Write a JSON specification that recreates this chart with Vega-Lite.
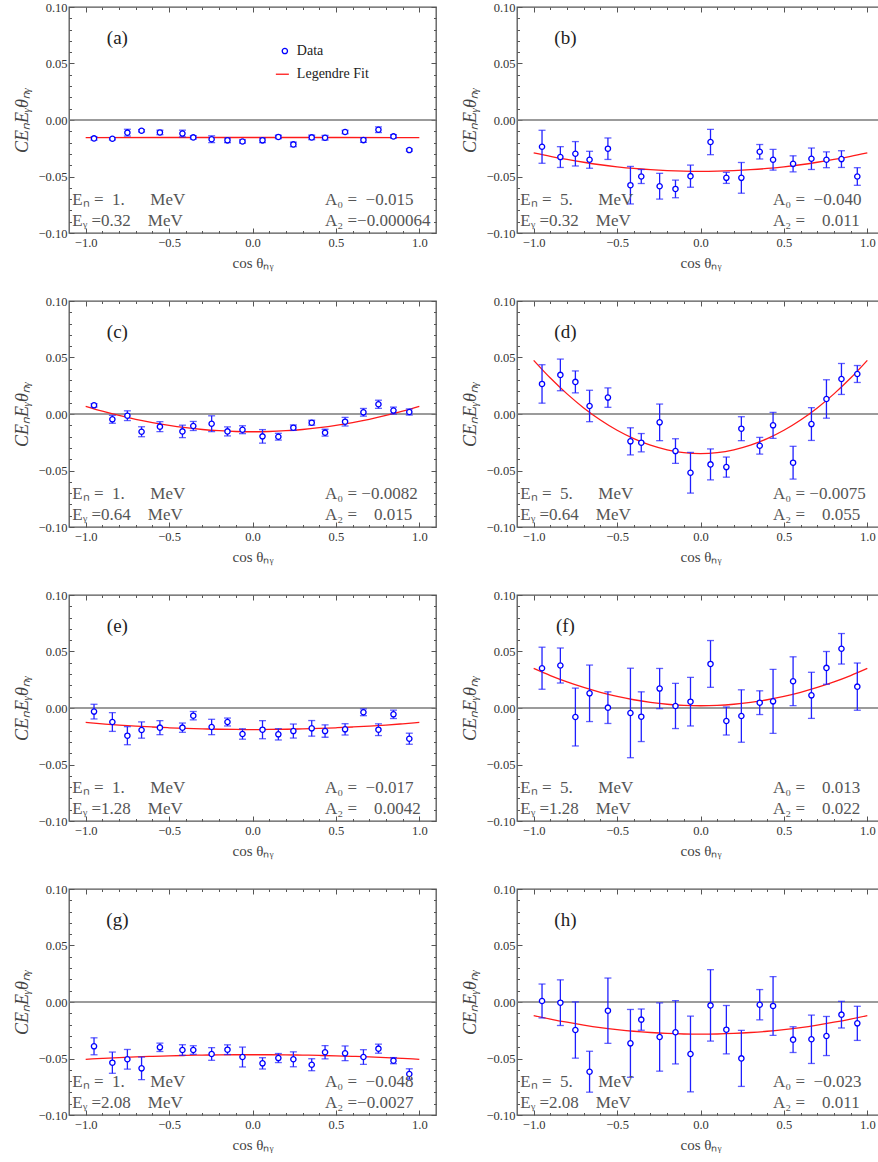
{
"$schema": "https://vega.github.io/schema/vega-lite/v6.json",
"padding": {"left": 12, "top": 0, "right": 0, "bottom": 0},
"background": "white",
"config": {
  "font": "Liberation Serif",
  "view": {"stroke": "#555555", "strokeWidth": 1.3},
  "axis": {"labelFont": "Liberation Serif", "labelFontSize": 12.5, "labelColor": "#333333", "titleFont": "Liberation Serif", "titleFontSize": 15, "titleFontWeight": "normal", "titleColor": "#444444", "tickColor": "#555555", "tickWidth": 1, "domain": false, "grid": false, "labelFlush": false, "labelOverlap": false, "labelBound": false},
  "axisLeft": {"titleFontSize": 18}
},
"datasets": {
"pts": [
{"p":"a","x":-0.95,"y":-0.0163,"e":0.0015},{"p":"a","x":-0.84,"y":-0.0166,"e":0.001},{"p":"a","x":-0.75,"y":-0.0112,"e":0.003},{"p":"a","x":-0.665,"y":-0.0095,"e":0.001},{"p":"a","x":-0.555,"y":-0.011,"e":0.002},{"p":"a","x":-0.42,"y":-0.012,"e":0.003},{"p":"a","x":-0.355,"y":-0.0154,"e":0.0015},{"p":"a","x":-0.245,"y":-0.017,"e":0.003},{"p":"a","x":-0.15,"y":-0.018,"e":0.002},{"p":"a","x":-0.06,"y":-0.019,"e":0.0015},{"p":"a","x":0.06,"y":-0.018,"e":0.002},{"p":"a","x":0.155,"y":-0.015,"e":0.0015},{"p":"a","x":0.245,"y":-0.0216,"e":0.002},{"p":"a","x":0.355,"y":-0.0154,"e":0.002},{"p":"a","x":0.435,"y":-0.0157,"e":0.002},{"p":"a","x":0.555,"y":-0.0106,"e":0.0015},{"p":"a","x":0.665,"y":-0.0178,"e":0.002},{"p":"a","x":0.755,"y":-0.0086,"e":0.0025},{"p":"a","x":0.845,"y":-0.0145,"e":0.0015},{"p":"a","x":0.94,"y":-0.0266,"e":0.001},
{"p":"b","x":-0.95,"y":-0.0237,"e":0.0146},{"p":"b","x":-0.84,"y":-0.0328,"e":0.0092},{"p":"b","x":-0.75,"y":-0.0299,"e":0.0108},{"p":"b","x":-0.665,"y":-0.0352,"e":0.0075},{"p":"b","x":-0.555,"y":-0.0254,"e":0.0095},{"p":"b","x":-0.42,"y":-0.0577,"e":0.0166},{"p":"b","x":-0.355,"y":-0.05,"e":0.0062},{"p":"b","x":-0.245,"y":-0.0586,"e":0.0114},{"p":"b","x":-0.15,"y":-0.061,"e":0.0078},{"p":"b","x":-0.06,"y":-0.0497,"e":0.0098},{"p":"b","x":0.06,"y":-0.0195,"e":0.0112},{"p":"b","x":0.155,"y":-0.0512,"e":0.0049},{"p":"b","x":0.245,"y":-0.0512,"e":0.0136},{"p":"b","x":0.355,"y":-0.0281,"e":0.0064},{"p":"b","x":0.435,"y":-0.0352,"e":0.0092},{"p":"b","x":0.555,"y":-0.0388,"e":0.0071},{"p":"b","x":0.665,"y":-0.0343,"e":0.0095},{"p":"b","x":0.755,"y":-0.0352,"e":0.007},{"p":"b","x":0.845,"y":-0.0346,"e":0.0074},{"p":"b","x":0.94,"y":-0.05,"e":0.0078},
{"p":"c","x":-0.95,"y":0.0077,"e":0.0015},{"p":"c","x":-0.84,"y":-0.0047,"e":0.0035},{"p":"c","x":-0.75,"y":-0.0015,"e":0.0043},{"p":"c","x":-0.665,"y":-0.0157,"e":0.0044},{"p":"c","x":-0.555,"y":-0.0112,"e":0.0044},{"p":"c","x":-0.42,"y":-0.0154,"e":0.0055},{"p":"c","x":-0.355,"y":-0.0106,"e":0.004},{"p":"c","x":-0.245,"y":-0.0086,"e":0.007},{"p":"c","x":-0.15,"y":-0.0154,"e":0.004},{"p":"c","x":-0.06,"y":-0.0139,"e":0.0035},{"p":"c","x":0.06,"y":-0.0198,"e":0.006},{"p":"c","x":0.155,"y":-0.0201,"e":0.003},{"p":"c","x":0.245,"y":-0.0121,"e":0.0024},{"p":"c","x":0.355,"y":-0.0077,"e":0.0022},{"p":"c","x":0.435,"y":-0.0165,"e":0.003},{"p":"c","x":0.555,"y":-0.0068,"e":0.0038},{"p":"c","x":0.665,"y":0.0015,"e":0.0034},{"p":"c","x":0.755,"y":0.0086,"e":0.0036},{"p":"c","x":0.845,"y":0.003,"e":0.0031},{"p":"c","x":0.94,"y":0.0018,"e":0.0027},
{"p":"d","x":-0.95,"y":0.0266,"e":0.017},{"p":"d","x":-0.84,"y":0.0346,"e":0.014},{"p":"d","x":-0.75,"y":0.0284,"e":0.0097},{"p":"d","x":-0.665,"y":0.0071,"e":0.0139},{"p":"d","x":-0.555,"y":0.0145,"e":0.0086},{"p":"d","x":-0.42,"y":-0.0242,"e":0.012},{"p":"d","x":-0.355,"y":-0.0254,"e":0.0081},{"p":"d","x":-0.245,"y":-0.0074,"e":0.0162},{"p":"d","x":-0.15,"y":-0.0328,"e":0.0109},{"p":"d","x":-0.06,"y":-0.052,"e":0.018},{"p":"d","x":0.06,"y":-0.0446,"e":0.0137},{"p":"d","x":0.155,"y":-0.047,"e":0.0089},{"p":"d","x":0.245,"y":-0.013,"e":0.0106},{"p":"d","x":0.355,"y":-0.0281,"e":0.0074},{"p":"d","x":0.435,"y":-0.01,"e":0.0115},{"p":"d","x":0.555,"y":-0.0431,"e":0.0145},{"p":"d","x":0.665,"y":-0.0089,"e":0.0145},{"p":"d","x":0.755,"y":0.0133,"e":0.017},{"p":"d","x":0.845,"y":0.031,"e":0.0137},{"p":"d","x":0.94,"y":0.0354,"e":0.0075},
{"p":"e","x":-0.95,"y":-0.0032,"e":0.0065},{"p":"e","x":-0.84,"y":-0.0124,"e":0.0083},{"p":"e","x":-0.75,"y":-0.0245,"e":0.008},{"p":"e","x":-0.665,"y":-0.0195,"e":0.0072},{"p":"e","x":-0.555,"y":-0.0174,"e":0.0062},{"p":"e","x":-0.42,"y":-0.0174,"e":0.0041},{"p":"e","x":-0.355,"y":-0.0068,"e":0.0037},{"p":"e","x":-0.245,"y":-0.0168,"e":0.0068},{"p":"e","x":-0.15,"y":-0.0124,"e":0.0035},{"p":"e","x":-0.06,"y":-0.023,"e":0.0046},{"p":"e","x":0.06,"y":-0.0192,"e":0.008},{"p":"e","x":0.155,"y":-0.0233,"e":0.005},{"p":"e","x":0.245,"y":-0.0204,"e":0.0062},{"p":"e","x":0.355,"y":-0.018,"e":0.0069},{"p":"e","x":0.435,"y":-0.0204,"e":0.0055},{"p":"e","x":0.555,"y":-0.0189,"e":0.005},{"p":"e","x":0.665,"y":-0.0038,"e":0.003},{"p":"e","x":0.755,"y":-0.0192,"e":0.0052},{"p":"e","x":0.845,"y":-0.0056,"e":0.0037},{"p":"e","x":0.94,"y":-0.0272,"e":0.0049},
{"p":"f","x":-0.95,"y":0.0352,"e":0.0186},{"p":"f","x":-0.84,"y":0.0376,"e":0.0155},{"p":"f","x":-0.75,"y":-0.008,"e":0.0256},{"p":"f","x":-0.665,"y":0.013,"e":0.025},{"p":"f","x":-0.555,"y":0.0003,"e":0.014},{"p":"f","x":-0.42,"y":-0.0044,"e":0.0396},{"p":"f","x":-0.355,"y":-0.0077,"e":0.022},{"p":"f","x":-0.245,"y":0.0172,"e":0.0178},{"p":"f","x":-0.15,"y":0.0018,"e":0.02},{"p":"f","x":-0.06,"y":0.0056,"e":0.0215},{"p":"f","x":0.06,"y":0.039,"e":0.0207},{"p":"f","x":0.155,"y":-0.0115,"e":0.0124},{"p":"f","x":0.245,"y":-0.0071,"e":0.0232},{"p":"f","x":0.355,"y":0.0047,"e":0.0105},{"p":"f","x":0.435,"y":0.0059,"e":0.0283},{"p":"f","x":0.555,"y":0.0237,"e":0.0216},{"p":"f","x":0.665,"y":0.0112,"e":0.0204},{"p":"f","x":0.755,"y":0.0355,"e":0.0145},{"p":"f","x":0.845,"y":0.0524,"e":0.0135},{"p":"f","x":0.94,"y":0.0189,"e":0.0209},
{"p":"g","x":-0.95,"y":-0.0392,"e":0.0075},{"p":"g","x":-0.84,"y":-0.0537,"e":0.0094},{"p":"g","x":-0.75,"y":-0.0507,"e":0.0087},{"p":"g","x":-0.665,"y":-0.0587,"e":0.01},{"p":"g","x":-0.555,"y":-0.0401,"e":0.0037},{"p":"g","x":-0.42,"y":-0.0425,"e":0.0047},{"p":"g","x":-0.355,"y":-0.0425,"e":0.0038},{"p":"g","x":-0.245,"y":-0.046,"e":0.0056},{"p":"g","x":-0.15,"y":-0.0422,"e":0.0043},{"p":"g","x":-0.06,"y":-0.0487,"e":0.0088},{"p":"g","x":0.06,"y":-0.0543,"e":0.005},{"p":"g","x":0.155,"y":-0.0496,"e":0.004},{"p":"g","x":0.245,"y":-0.0507,"e":0.0066},{"p":"g","x":0.355,"y":-0.0555,"e":0.0053},{"p":"g","x":0.435,"y":-0.0445,"e":0.0059},{"p":"g","x":0.555,"y":-0.0454,"e":0.0065},{"p":"g","x":0.665,"y":-0.0487,"e":0.0065},{"p":"g","x":0.755,"y":-0.0413,"e":0.004},{"p":"g","x":0.845,"y":-0.0519,"e":0.0027},{"p":"g","x":0.94,"y":-0.0637,"e":0.0046},
{"p":"h","x":-0.95,"y":0.0009,"e":0.015},{"p":"h","x":-0.84,"y":-0.0006,"e":0.0202},{"p":"h","x":-0.75,"y":-0.0248,"e":0.0249},{"p":"h","x":-0.665,"y":-0.0617,"e":0.0181},{"p":"h","x":-0.555,"y":-0.0077,"e":0.0289},{"p":"h","x":-0.42,"y":-0.0366,"e":0.03},{"p":"h","x":-0.355,"y":-0.0156,"e":0.0094},{"p":"h","x":-0.245,"y":-0.031,"e":0.0302},{"p":"h","x":-0.15,"y":-0.0268,"e":0.028},{"p":"h","x":-0.06,"y":-0.046,"e":0.0335},{"p":"h","x":0.06,"y":-0.003,"e":0.0316},{"p":"h","x":0.155,"y":-0.0245,"e":0.0214},{"p":"h","x":0.245,"y":-0.0499,"e":0.0248},{"p":"h","x":0.355,"y":-0.0024,"e":0.0134},{"p":"h","x":0.435,"y":-0.0035,"e":0.026},{"p":"h","x":0.555,"y":-0.0333,"e":0.0114},{"p":"h","x":0.665,"y":-0.033,"e":0.0214},{"p":"h","x":0.755,"y":-0.0301,"e":0.0173},{"p":"h","x":0.845,"y":-0.0112,"e":0.0118},{"p":"h","x":0.94,"y":-0.0189,"e":0.0151}
],
"fit": [
{"p":"a","x":-1,"y":-0.0156},{"p":"a","x":-0.5,"y":-0.0155},{"p":"a","x":0,"y":-0.0155},{"p":"a","x":0.5,"y":-0.0155},{"p":"a","x":1,"y":-0.0156},
{"p":"b","x":-1,"y":-0.029},{"p":"b","x":-0.9,"y":-0.0321},{"p":"b","x":-0.8,"y":-0.0349},{"p":"b","x":-0.7,"y":-0.0374},{"p":"b","x":-0.6,"y":-0.0396},{"p":"b","x":-0.5,"y":-0.0414},{"p":"b","x":-0.4,"y":-0.0429},{"p":"b","x":-0.3,"y":-0.044},{"p":"b","x":-0.2,"y":-0.0448},{"p":"b","x":-0.1,"y":-0.0453},{"p":"b","x":0,"y":-0.0455},{"p":"b","x":0.1,"y":-0.0453},{"p":"b","x":0.2,"y":-0.0448},{"p":"b","x":0.3,"y":-0.044},{"p":"b","x":0.4,"y":-0.0429},{"p":"b","x":0.5,"y":-0.0414},{"p":"b","x":0.6,"y":-0.0396},{"p":"b","x":0.7,"y":-0.0374},{"p":"b","x":0.8,"y":-0.0349},{"p":"b","x":0.9,"y":-0.0321},{"p":"b","x":1,"y":-0.029},
{"p":"c","x":-1,"y":0.0068},{"p":"c","x":-0.9,"y":0.0025},{"p":"c","x":-0.8,"y":-0.0013},{"p":"c","x":-0.7,"y":-0.0047},{"p":"c","x":-0.6,"y":-0.0076},{"p":"c","x":-0.5,"y":-0.0101},{"p":"c","x":-0.4,"y":-0.0121},{"p":"c","x":-0.3,"y":-0.0137},{"p":"c","x":-0.2,"y":-0.0148},{"p":"c","x":-0.1,"y":-0.0155},{"p":"c","x":0,"y":-0.0157},{"p":"c","x":0.1,"y":-0.0155},{"p":"c","x":0.2,"y":-0.0148},{"p":"c","x":0.3,"y":-0.0137},{"p":"c","x":0.4,"y":-0.0121},{"p":"c","x":0.5,"y":-0.0101},{"p":"c","x":0.6,"y":-0.0076},{"p":"c","x":0.7,"y":-0.0047},{"p":"c","x":0.8,"y":-0.0013},{"p":"c","x":0.9,"y":0.0025},{"p":"c","x":1,"y":0.0068},
{"p":"d","x":-1,"y":0.0475},{"p":"d","x":-0.9,"y":0.0318},{"p":"d","x":-0.8,"y":0.0178},{"p":"d","x":-0.7,"y":0.0054},{"p":"d","x":-0.6,"y":-0.0053},{"p":"d","x":-0.5,"y":-0.0144},{"p":"d","x":-0.4,"y":-0.0218},{"p":"d","x":-0.3,"y":-0.0276},{"p":"d","x":-0.2,"y":-0.0317},{"p":"d","x":-0.1,"y":-0.0342},{"p":"d","x":0,"y":-0.035},{"p":"d","x":0.1,"y":-0.0342},{"p":"d","x":0.2,"y":-0.0317},{"p":"d","x":0.3,"y":-0.0276},{"p":"d","x":0.4,"y":-0.0218},{"p":"d","x":0.5,"y":-0.0144},{"p":"d","x":0.6,"y":-0.0053},{"p":"d","x":0.7,"y":0.0054},{"p":"d","x":0.8,"y":0.0178},{"p":"d","x":0.9,"y":0.0318},{"p":"d","x":1,"y":0.0475},
{"p":"e","x":-1,"y":-0.0128},{"p":"e","x":-0.9,"y":-0.014},{"p":"e","x":-0.8,"y":-0.0151},{"p":"e","x":-0.7,"y":-0.016},{"p":"e","x":-0.6,"y":-0.0168},{"p":"e","x":-0.5,"y":-0.0175},{"p":"e","x":-0.4,"y":-0.0181},{"p":"e","x":-0.3,"y":-0.0185},{"p":"e","x":-0.2,"y":-0.0188},{"p":"e","x":-0.1,"y":-0.019},{"p":"e","x":0,"y":-0.0191},{"p":"e","x":0.1,"y":-0.019},{"p":"e","x":0.2,"y":-0.0188},{"p":"e","x":0.3,"y":-0.0185},{"p":"e","x":0.4,"y":-0.0181},{"p":"e","x":0.5,"y":-0.0175},{"p":"e","x":0.6,"y":-0.0168},{"p":"e","x":0.7,"y":-0.016},{"p":"e","x":0.8,"y":-0.0151},{"p":"e","x":0.9,"y":-0.014},{"p":"e","x":1,"y":-0.0128},
{"p":"f","x":-1,"y":0.035},{"p":"f","x":-0.9,"y":0.0287},{"p":"f","x":-0.8,"y":0.0231},{"p":"f","x":-0.7,"y":0.0182},{"p":"f","x":-0.6,"y":0.0139},{"p":"f","x":-0.5,"y":0.0103},{"p":"f","x":-0.4,"y":0.0073},{"p":"f","x":-0.3,"y":0.005},{"p":"f","x":-0.2,"y":0.0033},{"p":"f","x":-0.1,"y":0.0023},{"p":"f","x":0,"y":0.002},{"p":"f","x":0.1,"y":0.0023},{"p":"f","x":0.2,"y":0.0033},{"p":"f","x":0.3,"y":0.005},{"p":"f","x":0.4,"y":0.0073},{"p":"f","x":0.5,"y":0.0103},{"p":"f","x":0.6,"y":0.0139},{"p":"f","x":0.7,"y":0.0182},{"p":"f","x":0.8,"y":0.0231},{"p":"f","x":0.9,"y":0.0287},{"p":"f","x":1,"y":0.035},
{"p":"g","x":-1,"y":-0.0507},{"p":"g","x":-0.9,"y":-0.0499},{"p":"g","x":-0.8,"y":-0.0492},{"p":"g","x":-0.7,"y":-0.0486},{"p":"g","x":-0.6,"y":-0.0481},{"p":"g","x":-0.5,"y":-0.0477},{"p":"g","x":-0.4,"y":-0.0473},{"p":"g","x":-0.3,"y":-0.047},{"p":"g","x":-0.2,"y":-0.0468},{"p":"g","x":-0.1,"y":-0.0467},{"p":"g","x":0,"y":-0.0467},{"p":"g","x":0.1,"y":-0.0467},{"p":"g","x":0.2,"y":-0.0468},{"p":"g","x":0.3,"y":-0.047},{"p":"g","x":0.4,"y":-0.0473},{"p":"g","x":0.5,"y":-0.0477},{"p":"g","x":0.6,"y":-0.0481},{"p":"g","x":0.7,"y":-0.0486},{"p":"g","x":0.8,"y":-0.0492},{"p":"g","x":0.9,"y":-0.0499},{"p":"g","x":1,"y":-0.0507},
{"p":"h","x":-1,"y":-0.012},{"p":"h","x":-0.9,"y":-0.0151},{"p":"h","x":-0.8,"y":-0.0179},{"p":"h","x":-0.7,"y":-0.0204},{"p":"h","x":-0.6,"y":-0.0226},{"p":"h","x":-0.5,"y":-0.0244},{"p":"h","x":-0.4,"y":-0.0259},{"p":"h","x":-0.3,"y":-0.027},{"p":"h","x":-0.2,"y":-0.0278},{"p":"h","x":-0.1,"y":-0.0283},{"p":"h","x":0,"y":-0.0285},{"p":"h","x":0.1,"y":-0.0283},{"p":"h","x":0.2,"y":-0.0278},{"p":"h","x":0.3,"y":-0.027},{"p":"h","x":0.4,"y":-0.0259},{"p":"h","x":0.5,"y":-0.0244},{"p":"h","x":0.6,"y":-0.0226},{"p":"h","x":0.7,"y":-0.0204},{"p":"h","x":0.8,"y":-0.0179},{"p":"h","x":0.9,"y":-0.0151},{"p":"h","x":1,"y":-0.012}
]
},
"columns": 2,
"spacing": {"row": 68, "column": 81},
"bounds": "flush",
"concat": [
{"width":367,"height":226,"resolve":{"axis":{"x":"independent","y":"independent"}},"layer":[
{"data":{"values":[{}]},"mark":{"type":"rule","color":"#7a7a7a","strokeWidth":1.5},"encoding":{"y":{"datum":0,"type":"quantitative","axis":null}}},
{"data":{"name":"fit"},"transform":[{"filter":"datum.p=='a'"}],"mark":{"type":"line","color":"#ff1a1a","strokeWidth":1.3,"interpolate":"monotone"},"encoding":{"x":{"field":"x","type":"quantitative","scale":{"domain":[-1.1,1.1],"nice":false,"zero":false},"axis":{"orient":"bottom","values":[-1,-0.9,-0.8,-0.7,-0.6,-0.5,-0.4,-0.3,-0.2,-0.1,0,0.1,0.2,0.3,0.4,0.5,0.6,0.7,0.8,0.9,1],"labelExpr":"abs(datum.value*2-round(datum.value*2))<0.001 ? format(datum.value,'.1f') : ''","tickSize":{"condition":{"test":"abs(datum.value*2-round(datum.value*2))<0.001","value":-5},"value":-2.5},"labelPadding":8,"title":"cos θₙᵧ","titlePadding":4}},"y":{"field":"y","type":"quantitative","scale":{"domain":[-0.1,0.1],"nice":false,"zero":false},"axis":{"orient":"left","values":[-0.1,-0.09,-0.08,-0.07,-0.06,-0.05,-0.04,-0.03,-0.02,-0.01,0,0.01,0.02,0.03,0.04,0.05,0.06,0.07,0.08,0.09,0.1],"labelExpr":"abs(datum.value*20-round(datum.value*20))<0.001 ? format(datum.value,'.2f') : ''","tickSize":{"condition":{"test":"abs(datum.value*20-round(datum.value*20))<0.001","value":-5},"value":-2.5},"labelPadding":7,"title":"CEₙEᵧθₙᵧ","titleFontStyle":"italic","titlePadding":7}}}},
{"data":{"name":"pts"},"transform":[{"filter":"datum.p=='a'"}],"mark":{"type":"errorbar","ticks":{"size":7},"color":"#1f1fff","thickness":1.3},"encoding":{"x":{"field":"x","type":"quantitative","axis":null},"y":{"field":"y","type":"quantitative","axis":null},"yError":{"field":"e"}}},
{"data":{"name":"pts"},"transform":[{"filter":"datum.p=='a'"}],"mark":{"type":"point","shape":"circle","filled":true,"fill":"white","stroke":"#0000ff","strokeWidth":1.3,"size":28,"opacity":1},"encoding":{"x":{"field":"x","type":"quantitative","axis":{"orient":"top","values":[-1,-0.9,-0.8,-0.7,-0.6,-0.5,-0.4,-0.3,-0.2,-0.1,0,0.1,0.2,0.3,0.4,0.5,0.6,0.7,0.8,0.9,1],"labels":false,"title":null,"tickSize":{"condition":{"test":"abs(datum.value*2-round(datum.value*2))<0.001","value":-5},"value":-2.5}}},"y":{"field":"y","type":"quantitative","axis":{"orient":"right","values":[-0.1,-0.09,-0.08,-0.07,-0.06,-0.05,-0.04,-0.03,-0.02,-0.01,0,0.01,0.02,0.03,0.04,0.05,0.06,0.07,0.08,0.09,0.1],"labels":false,"title":null,"tickSize":{"condition":{"test":"abs(datum.value*20-round(datum.value*20))<0.001","value":-5},"value":-2.5}}}}},
{"data":{"values":[{}]},"mark":{"type":"text","text":"(a)","fontSize":19,"color":"#222222"},"encoding":{"x":{"datum":-0.81,"type":"quantitative","axis":null},"y":{"datum":0.0725,"type":"quantitative","axis":null}}},
{"data":{"values":[{}]},"mark":{"type":"text","text":["Eₙ\u00a0=\u00a0\u00a01.\u00a0\u00a0\u00a0\u00a0\u00a0\u00a0MeV","Eᵧ\u00a0=0.32\u00a0\u00a0\u00a0\u00a0MeV"],"align":"left","baseline":"alphabetic","lineHeight":21.7,"fontSize":17,"color":"#555555"},"encoding":{"x":{"datum":-1.08,"type":"quantitative","axis":null},"y":{"datum":-0.0749,"type":"quantitative","axis":null}}},
{"data":{"values":[{}]},"mark":{"type":"text","text":["A₀\u00a0=\u00a0\u00a0−0.015","A₂\u00a0=−0.000064"],"align":"left","baseline":"alphabetic","lineHeight":21.7,"fontSize":17,"color":"#555555"},"encoding":{"x":{"datum":0.435,"type":"quantitative","axis":null},"y":{"datum":-0.0749,"type":"quantitative","axis":null}}},
{"data":{"values":[{}]},"mark":{"type":"point","shape":"circle","filled":true,"fill":"white","stroke":"#0000ff","strokeWidth":1.3,"size":28,"opacity":1},"encoding":{"x":{"datum":0.194,"type":"quantitative","axis":null},"y":{"datum":0.061,"type":"quantitative","axis":null}}},
{"data":{"values":[{}]},"mark":{"type":"text","text":"Data","align":"left","baseline":"middle","fontSize":14,"color":"#222222"},"encoding":{"x":{"datum":0.266,"type":"quantitative","axis":null},"y":{"datum":0.061,"type":"quantitative","axis":null}}},
{"data":{"values":[{}]},"mark":{"type":"rule","color":"#ff1a1a","strokeWidth":1.3},"encoding":{"x":{"datum":0.14,"type":"quantitative","axis":null},"x2":{"datum":0.218},"y":{"datum":0.0405,"type":"quantitative","axis":null}}},
{"data":{"values":[{}]},"mark":{"type":"text","text":"Legendre Fit","align":"left","baseline":"middle","fontSize":14,"color":"#222222"},"encoding":{"x":{"datum":0.266,"type":"quantitative","axis":null},"y":{"datum":0.0405,"type":"quantitative","axis":null}}}
]},
{"width":367,"height":226,"resolve":{"axis":{"x":"independent","y":"independent"}},"layer":[
{"data":{"values":[{}]},"mark":{"type":"rule","color":"#7a7a7a","strokeWidth":1.5},"encoding":{"y":{"datum":0,"type":"quantitative","axis":null}}},
{"data":{"name":"fit"},"transform":[{"filter":"datum.p=='b'"}],"mark":{"type":"line","color":"#ff1a1a","strokeWidth":1.3,"interpolate":"monotone"},"encoding":{"x":{"field":"x","type":"quantitative","scale":{"domain":[-1.1,1.1],"nice":false,"zero":false},"axis":{"orient":"bottom","values":[-1,-0.9,-0.8,-0.7,-0.6,-0.5,-0.4,-0.3,-0.2,-0.1,0,0.1,0.2,0.3,0.4,0.5,0.6,0.7,0.8,0.9,1],"labelExpr":"abs(datum.value*2-round(datum.value*2))<0.001 ? format(datum.value,'.1f') : ''","tickSize":{"condition":{"test":"abs(datum.value*2-round(datum.value*2))<0.001","value":-5},"value":-2.5},"labelPadding":8,"title":"cos θₙᵧ","titlePadding":4}},"y":{"field":"y","type":"quantitative","scale":{"domain":[-0.1,0.1],"nice":false,"zero":false},"axis":{"orient":"left","values":[-0.1,-0.09,-0.08,-0.07,-0.06,-0.05,-0.04,-0.03,-0.02,-0.01,0,0.01,0.02,0.03,0.04,0.05,0.06,0.07,0.08,0.09,0.1],"labelExpr":"abs(datum.value*20-round(datum.value*20))<0.001 ? format(datum.value,'.2f') : ''","tickSize":{"condition":{"test":"abs(datum.value*20-round(datum.value*20))<0.001","value":-5},"value":-2.5},"labelPadding":7,"title":"CEₙEᵧθₙᵧ","titleFontStyle":"italic","titlePadding":7}}}},
{"data":{"name":"pts"},"transform":[{"filter":"datum.p=='b'"}],"mark":{"type":"errorbar","ticks":{"size":7},"color":"#1f1fff","thickness":1.3},"encoding":{"x":{"field":"x","type":"quantitative","axis":null},"y":{"field":"y","type":"quantitative","axis":null},"yError":{"field":"e"}}},
{"data":{"name":"pts"},"transform":[{"filter":"datum.p=='b'"}],"mark":{"type":"point","shape":"circle","filled":true,"fill":"white","stroke":"#0000ff","strokeWidth":1.3,"size":28,"opacity":1},"encoding":{"x":{"field":"x","type":"quantitative","axis":{"orient":"top","values":[-1,-0.9,-0.8,-0.7,-0.6,-0.5,-0.4,-0.3,-0.2,-0.1,0,0.1,0.2,0.3,0.4,0.5,0.6,0.7,0.8,0.9,1],"labels":false,"title":null,"tickSize":{"condition":{"test":"abs(datum.value*2-round(datum.value*2))<0.001","value":-5},"value":-2.5}}},"y":{"field":"y","type":"quantitative","axis":{"orient":"right","values":[-0.1,-0.09,-0.08,-0.07,-0.06,-0.05,-0.04,-0.03,-0.02,-0.01,0,0.01,0.02,0.03,0.04,0.05,0.06,0.07,0.08,0.09,0.1],"labels":false,"title":null,"tickSize":{"condition":{"test":"abs(datum.value*20-round(datum.value*20))<0.001","value":-5},"value":-2.5}}}}},
{"data":{"values":[{}]},"mark":{"type":"text","text":"(b)","fontSize":19,"color":"#222222"},"encoding":{"x":{"datum":-0.81,"type":"quantitative","axis":null},"y":{"datum":0.0725,"type":"quantitative","axis":null}}},
{"data":{"values":[{}]},"mark":{"type":"text","text":["Eₙ\u00a0=\u00a0\u00a05.\u00a0\u00a0\u00a0\u00a0\u00a0\u00a0MeV","Eᵧ\u00a0=0.32\u00a0\u00a0\u00a0\u00a0MeV"],"align":"left","baseline":"alphabetic","lineHeight":21.7,"fontSize":17,"color":"#555555"},"encoding":{"x":{"datum":-1.08,"type":"quantitative","axis":null},"y":{"datum":-0.0749,"type":"quantitative","axis":null}}},
{"data":{"values":[{}]},"mark":{"type":"text","text":["A₀\u00a0=\u00a0\u00a0−0.040","A₂\u00a0=\u00a0\u00a0\u00a0\u00a00.011"],"align":"left","baseline":"alphabetic","lineHeight":21.7,"fontSize":17,"color":"#555555"},"encoding":{"x":{"datum":0.435,"type":"quantitative","axis":null},"y":{"datum":-0.0749,"type":"quantitative","axis":null}}}
]},
{"width":367,"height":226,"resolve":{"axis":{"x":"independent","y":"independent"}},"layer":[
{"data":{"values":[{}]},"mark":{"type":"rule","color":"#7a7a7a","strokeWidth":1.5},"encoding":{"y":{"datum":0,"type":"quantitative","axis":null}}},
{"data":{"name":"fit"},"transform":[{"filter":"datum.p=='c'"}],"mark":{"type":"line","color":"#ff1a1a","strokeWidth":1.3,"interpolate":"monotone"},"encoding":{"x":{"field":"x","type":"quantitative","scale":{"domain":[-1.1,1.1],"nice":false,"zero":false},"axis":{"orient":"bottom","values":[-1,-0.9,-0.8,-0.7,-0.6,-0.5,-0.4,-0.3,-0.2,-0.1,0,0.1,0.2,0.3,0.4,0.5,0.6,0.7,0.8,0.9,1],"labelExpr":"abs(datum.value*2-round(datum.value*2))<0.001 ? format(datum.value,'.1f') : ''","tickSize":{"condition":{"test":"abs(datum.value*2-round(datum.value*2))<0.001","value":-5},"value":-2.5},"labelPadding":8,"title":"cos θₙᵧ","titlePadding":4}},"y":{"field":"y","type":"quantitative","scale":{"domain":[-0.1,0.1],"nice":false,"zero":false},"axis":{"orient":"left","values":[-0.1,-0.09,-0.08,-0.07,-0.06,-0.05,-0.04,-0.03,-0.02,-0.01,0,0.01,0.02,0.03,0.04,0.05,0.06,0.07,0.08,0.09,0.1],"labelExpr":"abs(datum.value*20-round(datum.value*20))<0.001 ? format(datum.value,'.2f') : ''","tickSize":{"condition":{"test":"abs(datum.value*20-round(datum.value*20))<0.001","value":-5},"value":-2.5},"labelPadding":7,"title":"CEₙEᵧθₙᵧ","titleFontStyle":"italic","titlePadding":7}}}},
{"data":{"name":"pts"},"transform":[{"filter":"datum.p=='c'"}],"mark":{"type":"errorbar","ticks":{"size":7},"color":"#1f1fff","thickness":1.3},"encoding":{"x":{"field":"x","type":"quantitative","axis":null},"y":{"field":"y","type":"quantitative","axis":null},"yError":{"field":"e"}}},
{"data":{"name":"pts"},"transform":[{"filter":"datum.p=='c'"}],"mark":{"type":"point","shape":"circle","filled":true,"fill":"white","stroke":"#0000ff","strokeWidth":1.3,"size":28,"opacity":1},"encoding":{"x":{"field":"x","type":"quantitative","axis":{"orient":"top","values":[-1,-0.9,-0.8,-0.7,-0.6,-0.5,-0.4,-0.3,-0.2,-0.1,0,0.1,0.2,0.3,0.4,0.5,0.6,0.7,0.8,0.9,1],"labels":false,"title":null,"tickSize":{"condition":{"test":"abs(datum.value*2-round(datum.value*2))<0.001","value":-5},"value":-2.5}}},"y":{"field":"y","type":"quantitative","axis":{"orient":"right","values":[-0.1,-0.09,-0.08,-0.07,-0.06,-0.05,-0.04,-0.03,-0.02,-0.01,0,0.01,0.02,0.03,0.04,0.05,0.06,0.07,0.08,0.09,0.1],"labels":false,"title":null,"tickSize":{"condition":{"test":"abs(datum.value*20-round(datum.value*20))<0.001","value":-5},"value":-2.5}}}}},
{"data":{"values":[{}]},"mark":{"type":"text","text":"(c)","fontSize":19,"color":"#222222"},"encoding":{"x":{"datum":-0.81,"type":"quantitative","axis":null},"y":{"datum":0.0725,"type":"quantitative","axis":null}}},
{"data":{"values":[{}]},"mark":{"type":"text","text":["Eₙ\u00a0=\u00a0\u00a01.\u00a0\u00a0\u00a0\u00a0\u00a0\u00a0MeV","Eᵧ\u00a0=0.64\u00a0\u00a0\u00a0\u00a0MeV"],"align":"left","baseline":"alphabetic","lineHeight":21.7,"fontSize":17,"color":"#555555"},"encoding":{"x":{"datum":-1.08,"type":"quantitative","axis":null},"y":{"datum":-0.0749,"type":"quantitative","axis":null}}},
{"data":{"values":[{}]},"mark":{"type":"text","text":["A₀\u00a0=\u00a0−0.0082","A₂\u00a0=\u00a0\u00a0\u00a0\u00a00.015"],"align":"left","baseline":"alphabetic","lineHeight":21.7,"fontSize":17,"color":"#555555"},"encoding":{"x":{"datum":0.435,"type":"quantitative","axis":null},"y":{"datum":-0.0749,"type":"quantitative","axis":null}}}
]},
{"width":367,"height":226,"resolve":{"axis":{"x":"independent","y":"independent"}},"layer":[
{"data":{"values":[{}]},"mark":{"type":"rule","color":"#7a7a7a","strokeWidth":1.5},"encoding":{"y":{"datum":0,"type":"quantitative","axis":null}}},
{"data":{"name":"fit"},"transform":[{"filter":"datum.p=='d'"}],"mark":{"type":"line","color":"#ff1a1a","strokeWidth":1.3,"interpolate":"monotone"},"encoding":{"x":{"field":"x","type":"quantitative","scale":{"domain":[-1.1,1.1],"nice":false,"zero":false},"axis":{"orient":"bottom","values":[-1,-0.9,-0.8,-0.7,-0.6,-0.5,-0.4,-0.3,-0.2,-0.1,0,0.1,0.2,0.3,0.4,0.5,0.6,0.7,0.8,0.9,1],"labelExpr":"abs(datum.value*2-round(datum.value*2))<0.001 ? format(datum.value,'.1f') : ''","tickSize":{"condition":{"test":"abs(datum.value*2-round(datum.value*2))<0.001","value":-5},"value":-2.5},"labelPadding":8,"title":"cos θₙᵧ","titlePadding":4}},"y":{"field":"y","type":"quantitative","scale":{"domain":[-0.1,0.1],"nice":false,"zero":false},"axis":{"orient":"left","values":[-0.1,-0.09,-0.08,-0.07,-0.06,-0.05,-0.04,-0.03,-0.02,-0.01,0,0.01,0.02,0.03,0.04,0.05,0.06,0.07,0.08,0.09,0.1],"labelExpr":"abs(datum.value*20-round(datum.value*20))<0.001 ? format(datum.value,'.2f') : ''","tickSize":{"condition":{"test":"abs(datum.value*20-round(datum.value*20))<0.001","value":-5},"value":-2.5},"labelPadding":7,"title":"CEₙEᵧθₙᵧ","titleFontStyle":"italic","titlePadding":7}}}},
{"data":{"name":"pts"},"transform":[{"filter":"datum.p=='d'"}],"mark":{"type":"errorbar","ticks":{"size":7},"color":"#1f1fff","thickness":1.3},"encoding":{"x":{"field":"x","type":"quantitative","axis":null},"y":{"field":"y","type":"quantitative","axis":null},"yError":{"field":"e"}}},
{"data":{"name":"pts"},"transform":[{"filter":"datum.p=='d'"}],"mark":{"type":"point","shape":"circle","filled":true,"fill":"white","stroke":"#0000ff","strokeWidth":1.3,"size":28,"opacity":1},"encoding":{"x":{"field":"x","type":"quantitative","axis":{"orient":"top","values":[-1,-0.9,-0.8,-0.7,-0.6,-0.5,-0.4,-0.3,-0.2,-0.1,0,0.1,0.2,0.3,0.4,0.5,0.6,0.7,0.8,0.9,1],"labels":false,"title":null,"tickSize":{"condition":{"test":"abs(datum.value*2-round(datum.value*2))<0.001","value":-5},"value":-2.5}}},"y":{"field":"y","type":"quantitative","axis":{"orient":"right","values":[-0.1,-0.09,-0.08,-0.07,-0.06,-0.05,-0.04,-0.03,-0.02,-0.01,0,0.01,0.02,0.03,0.04,0.05,0.06,0.07,0.08,0.09,0.1],"labels":false,"title":null,"tickSize":{"condition":{"test":"abs(datum.value*20-round(datum.value*20))<0.001","value":-5},"value":-2.5}}}}},
{"data":{"values":[{}]},"mark":{"type":"text","text":"(d)","fontSize":19,"color":"#222222"},"encoding":{"x":{"datum":-0.81,"type":"quantitative","axis":null},"y":{"datum":0.0725,"type":"quantitative","axis":null}}},
{"data":{"values":[{}]},"mark":{"type":"text","text":["Eₙ\u00a0=\u00a0\u00a05.\u00a0\u00a0\u00a0\u00a0\u00a0\u00a0MeV","Eᵧ\u00a0=0.64\u00a0\u00a0\u00a0\u00a0MeV"],"align":"left","baseline":"alphabetic","lineHeight":21.7,"fontSize":17,"color":"#555555"},"encoding":{"x":{"datum":-1.08,"type":"quantitative","axis":null},"y":{"datum":-0.0749,"type":"quantitative","axis":null}}},
{"data":{"values":[{}]},"mark":{"type":"text","text":["A₀\u00a0=\u00a0−0.0075","A₂\u00a0=\u00a0\u00a0\u00a0\u00a00.055"],"align":"left","baseline":"alphabetic","lineHeight":21.7,"fontSize":17,"color":"#555555"},"encoding":{"x":{"datum":0.435,"type":"quantitative","axis":null},"y":{"datum":-0.0749,"type":"quantitative","axis":null}}}
]},
{"width":367,"height":226,"resolve":{"axis":{"x":"independent","y":"independent"}},"layer":[
{"data":{"values":[{}]},"mark":{"type":"rule","color":"#7a7a7a","strokeWidth":1.5},"encoding":{"y":{"datum":0,"type":"quantitative","axis":null}}},
{"data":{"name":"fit"},"transform":[{"filter":"datum.p=='e'"}],"mark":{"type":"line","color":"#ff1a1a","strokeWidth":1.3,"interpolate":"monotone"},"encoding":{"x":{"field":"x","type":"quantitative","scale":{"domain":[-1.1,1.1],"nice":false,"zero":false},"axis":{"orient":"bottom","values":[-1,-0.9,-0.8,-0.7,-0.6,-0.5,-0.4,-0.3,-0.2,-0.1,0,0.1,0.2,0.3,0.4,0.5,0.6,0.7,0.8,0.9,1],"labelExpr":"abs(datum.value*2-round(datum.value*2))<0.001 ? format(datum.value,'.1f') : ''","tickSize":{"condition":{"test":"abs(datum.value*2-round(datum.value*2))<0.001","value":-5},"value":-2.5},"labelPadding":8,"title":"cos θₙᵧ","titlePadding":4}},"y":{"field":"y","type":"quantitative","scale":{"domain":[-0.1,0.1],"nice":false,"zero":false},"axis":{"orient":"left","values":[-0.1,-0.09,-0.08,-0.07,-0.06,-0.05,-0.04,-0.03,-0.02,-0.01,0,0.01,0.02,0.03,0.04,0.05,0.06,0.07,0.08,0.09,0.1],"labelExpr":"abs(datum.value*20-round(datum.value*20))<0.001 ? format(datum.value,'.2f') : ''","tickSize":{"condition":{"test":"abs(datum.value*20-round(datum.value*20))<0.001","value":-5},"value":-2.5},"labelPadding":7,"title":"CEₙEᵧθₙᵧ","titleFontStyle":"italic","titlePadding":7}}}},
{"data":{"name":"pts"},"transform":[{"filter":"datum.p=='e'"}],"mark":{"type":"errorbar","ticks":{"size":7},"color":"#1f1fff","thickness":1.3},"encoding":{"x":{"field":"x","type":"quantitative","axis":null},"y":{"field":"y","type":"quantitative","axis":null},"yError":{"field":"e"}}},
{"data":{"name":"pts"},"transform":[{"filter":"datum.p=='e'"}],"mark":{"type":"point","shape":"circle","filled":true,"fill":"white","stroke":"#0000ff","strokeWidth":1.3,"size":28,"opacity":1},"encoding":{"x":{"field":"x","type":"quantitative","axis":{"orient":"top","values":[-1,-0.9,-0.8,-0.7,-0.6,-0.5,-0.4,-0.3,-0.2,-0.1,0,0.1,0.2,0.3,0.4,0.5,0.6,0.7,0.8,0.9,1],"labels":false,"title":null,"tickSize":{"condition":{"test":"abs(datum.value*2-round(datum.value*2))<0.001","value":-5},"value":-2.5}}},"y":{"field":"y","type":"quantitative","axis":{"orient":"right","values":[-0.1,-0.09,-0.08,-0.07,-0.06,-0.05,-0.04,-0.03,-0.02,-0.01,0,0.01,0.02,0.03,0.04,0.05,0.06,0.07,0.08,0.09,0.1],"labels":false,"title":null,"tickSize":{"condition":{"test":"abs(datum.value*20-round(datum.value*20))<0.001","value":-5},"value":-2.5}}}}},
{"data":{"values":[{}]},"mark":{"type":"text","text":"(e)","fontSize":19,"color":"#222222"},"encoding":{"x":{"datum":-0.81,"type":"quantitative","axis":null},"y":{"datum":0.0725,"type":"quantitative","axis":null}}},
{"data":{"values":[{}]},"mark":{"type":"text","text":["Eₙ\u00a0=\u00a0\u00a01.\u00a0\u00a0\u00a0\u00a0\u00a0\u00a0MeV","Eᵧ\u00a0=1.28\u00a0\u00a0\u00a0\u00a0MeV"],"align":"left","baseline":"alphabetic","lineHeight":21.7,"fontSize":17,"color":"#555555"},"encoding":{"x":{"datum":-1.08,"type":"quantitative","axis":null},"y":{"datum":-0.0749,"type":"quantitative","axis":null}}},
{"data":{"values":[{}]},"mark":{"type":"text","text":["A₀\u00a0=\u00a0\u00a0−0.017","A₂\u00a0=\u00a0\u00a0\u00a0\u00a00.0042"],"align":"left","baseline":"alphabetic","lineHeight":21.7,"fontSize":17,"color":"#555555"},"encoding":{"x":{"datum":0.435,"type":"quantitative","axis":null},"y":{"datum":-0.0749,"type":"quantitative","axis":null}}}
]},
{"width":367,"height":226,"resolve":{"axis":{"x":"independent","y":"independent"}},"layer":[
{"data":{"values":[{}]},"mark":{"type":"rule","color":"#7a7a7a","strokeWidth":1.5},"encoding":{"y":{"datum":0,"type":"quantitative","axis":null}}},
{"data":{"name":"fit"},"transform":[{"filter":"datum.p=='f'"}],"mark":{"type":"line","color":"#ff1a1a","strokeWidth":1.3,"interpolate":"monotone"},"encoding":{"x":{"field":"x","type":"quantitative","scale":{"domain":[-1.1,1.1],"nice":false,"zero":false},"axis":{"orient":"bottom","values":[-1,-0.9,-0.8,-0.7,-0.6,-0.5,-0.4,-0.3,-0.2,-0.1,0,0.1,0.2,0.3,0.4,0.5,0.6,0.7,0.8,0.9,1],"labelExpr":"abs(datum.value*2-round(datum.value*2))<0.001 ? format(datum.value,'.1f') : ''","tickSize":{"condition":{"test":"abs(datum.value*2-round(datum.value*2))<0.001","value":-5},"value":-2.5},"labelPadding":8,"title":"cos θₙᵧ","titlePadding":4}},"y":{"field":"y","type":"quantitative","scale":{"domain":[-0.1,0.1],"nice":false,"zero":false},"axis":{"orient":"left","values":[-0.1,-0.09,-0.08,-0.07,-0.06,-0.05,-0.04,-0.03,-0.02,-0.01,0,0.01,0.02,0.03,0.04,0.05,0.06,0.07,0.08,0.09,0.1],"labelExpr":"abs(datum.value*20-round(datum.value*20))<0.001 ? format(datum.value,'.2f') : ''","tickSize":{"condition":{"test":"abs(datum.value*20-round(datum.value*20))<0.001","value":-5},"value":-2.5},"labelPadding":7,"title":"CEₙEᵧθₙᵧ","titleFontStyle":"italic","titlePadding":7}}}},
{"data":{"name":"pts"},"transform":[{"filter":"datum.p=='f'"}],"mark":{"type":"errorbar","ticks":{"size":7},"color":"#1f1fff","thickness":1.3},"encoding":{"x":{"field":"x","type":"quantitative","axis":null},"y":{"field":"y","type":"quantitative","axis":null},"yError":{"field":"e"}}},
{"data":{"name":"pts"},"transform":[{"filter":"datum.p=='f'"}],"mark":{"type":"point","shape":"circle","filled":true,"fill":"white","stroke":"#0000ff","strokeWidth":1.3,"size":28,"opacity":1},"encoding":{"x":{"field":"x","type":"quantitative","axis":{"orient":"top","values":[-1,-0.9,-0.8,-0.7,-0.6,-0.5,-0.4,-0.3,-0.2,-0.1,0,0.1,0.2,0.3,0.4,0.5,0.6,0.7,0.8,0.9,1],"labels":false,"title":null,"tickSize":{"condition":{"test":"abs(datum.value*2-round(datum.value*2))<0.001","value":-5},"value":-2.5}}},"y":{"field":"y","type":"quantitative","axis":{"orient":"right","values":[-0.1,-0.09,-0.08,-0.07,-0.06,-0.05,-0.04,-0.03,-0.02,-0.01,0,0.01,0.02,0.03,0.04,0.05,0.06,0.07,0.08,0.09,0.1],"labels":false,"title":null,"tickSize":{"condition":{"test":"abs(datum.value*20-round(datum.value*20))<0.001","value":-5},"value":-2.5}}}}},
{"data":{"values":[{}]},"mark":{"type":"text","text":"(f)","fontSize":19,"color":"#222222"},"encoding":{"x":{"datum":-0.81,"type":"quantitative","axis":null},"y":{"datum":0.0725,"type":"quantitative","axis":null}}},
{"data":{"values":[{}]},"mark":{"type":"text","text":["Eₙ\u00a0=\u00a0\u00a05.\u00a0\u00a0\u00a0\u00a0\u00a0\u00a0MeV","Eᵧ\u00a0=1.28\u00a0\u00a0\u00a0\u00a0MeV"],"align":"left","baseline":"alphabetic","lineHeight":21.7,"fontSize":17,"color":"#555555"},"encoding":{"x":{"datum":-1.08,"type":"quantitative","axis":null},"y":{"datum":-0.0749,"type":"quantitative","axis":null}}},
{"data":{"values":[{}]},"mark":{"type":"text","text":["A₀\u00a0=\u00a0\u00a0\u00a0\u00a00.013","A₂\u00a0=\u00a0\u00a0\u00a0\u00a00.022"],"align":"left","baseline":"alphabetic","lineHeight":21.7,"fontSize":17,"color":"#555555"},"encoding":{"x":{"datum":0.435,"type":"quantitative","axis":null},"y":{"datum":-0.0749,"type":"quantitative","axis":null}}}
]},
{"width":367,"height":226,"resolve":{"axis":{"x":"independent","y":"independent"}},"layer":[
{"data":{"values":[{}]},"mark":{"type":"rule","color":"#7a7a7a","strokeWidth":1.5},"encoding":{"y":{"datum":0,"type":"quantitative","axis":null}}},
{"data":{"name":"fit"},"transform":[{"filter":"datum.p=='g'"}],"mark":{"type":"line","color":"#ff1a1a","strokeWidth":1.3,"interpolate":"monotone"},"encoding":{"x":{"field":"x","type":"quantitative","scale":{"domain":[-1.1,1.1],"nice":false,"zero":false},"axis":{"orient":"bottom","values":[-1,-0.9,-0.8,-0.7,-0.6,-0.5,-0.4,-0.3,-0.2,-0.1,0,0.1,0.2,0.3,0.4,0.5,0.6,0.7,0.8,0.9,1],"labelExpr":"abs(datum.value*2-round(datum.value*2))<0.001 ? format(datum.value,'.1f') : ''","tickSize":{"condition":{"test":"abs(datum.value*2-round(datum.value*2))<0.001","value":-5},"value":-2.5},"labelPadding":8,"title":"cos θₙᵧ","titlePadding":4}},"y":{"field":"y","type":"quantitative","scale":{"domain":[-0.1,0.1],"nice":false,"zero":false},"axis":{"orient":"left","values":[-0.1,-0.09,-0.08,-0.07,-0.06,-0.05,-0.04,-0.03,-0.02,-0.01,0,0.01,0.02,0.03,0.04,0.05,0.06,0.07,0.08,0.09,0.1],"labelExpr":"abs(datum.value*20-round(datum.value*20))<0.001 ? format(datum.value,'.2f') : ''","tickSize":{"condition":{"test":"abs(datum.value*20-round(datum.value*20))<0.001","value":-5},"value":-2.5},"labelPadding":7,"title":"CEₙEᵧθₙᵧ","titleFontStyle":"italic","titlePadding":7}}}},
{"data":{"name":"pts"},"transform":[{"filter":"datum.p=='g'"}],"mark":{"type":"errorbar","ticks":{"size":7},"color":"#1f1fff","thickness":1.3},"encoding":{"x":{"field":"x","type":"quantitative","axis":null},"y":{"field":"y","type":"quantitative","axis":null},"yError":{"field":"e"}}},
{"data":{"name":"pts"},"transform":[{"filter":"datum.p=='g'"}],"mark":{"type":"point","shape":"circle","filled":true,"fill":"white","stroke":"#0000ff","strokeWidth":1.3,"size":28,"opacity":1},"encoding":{"x":{"field":"x","type":"quantitative","axis":{"orient":"top","values":[-1,-0.9,-0.8,-0.7,-0.6,-0.5,-0.4,-0.3,-0.2,-0.1,0,0.1,0.2,0.3,0.4,0.5,0.6,0.7,0.8,0.9,1],"labels":false,"title":null,"tickSize":{"condition":{"test":"abs(datum.value*2-round(datum.value*2))<0.001","value":-5},"value":-2.5}}},"y":{"field":"y","type":"quantitative","axis":{"orient":"right","values":[-0.1,-0.09,-0.08,-0.07,-0.06,-0.05,-0.04,-0.03,-0.02,-0.01,0,0.01,0.02,0.03,0.04,0.05,0.06,0.07,0.08,0.09,0.1],"labels":false,"title":null,"tickSize":{"condition":{"test":"abs(datum.value*20-round(datum.value*20))<0.001","value":-5},"value":-2.5}}}}},
{"data":{"values":[{}]},"mark":{"type":"text","text":"(g)","fontSize":19,"color":"#222222"},"encoding":{"x":{"datum":-0.81,"type":"quantitative","axis":null},"y":{"datum":0.0725,"type":"quantitative","axis":null}}},
{"data":{"values":[{}]},"mark":{"type":"text","text":["Eₙ\u00a0=\u00a0\u00a01.\u00a0\u00a0\u00a0\u00a0\u00a0\u00a0MeV","Eᵧ\u00a0=2.08\u00a0\u00a0\u00a0\u00a0MeV"],"align":"left","baseline":"alphabetic","lineHeight":21.7,"fontSize":17,"color":"#555555"},"encoding":{"x":{"datum":-1.08,"type":"quantitative","axis":null},"y":{"datum":-0.0749,"type":"quantitative","axis":null}}},
{"data":{"values":[{}]},"mark":{"type":"text","text":["A₀\u00a0=\u00a0\u00a0−0.048","A₂\u00a0=−0.0027"],"align":"left","baseline":"alphabetic","lineHeight":21.7,"fontSize":17,"color":"#555555"},"encoding":{"x":{"datum":0.435,"type":"quantitative","axis":null},"y":{"datum":-0.0749,"type":"quantitative","axis":null}}}
]},
{"width":367,"height":226,"resolve":{"axis":{"x":"independent","y":"independent"}},"layer":[
{"data":{"values":[{}]},"mark":{"type":"rule","color":"#7a7a7a","strokeWidth":1.5},"encoding":{"y":{"datum":0,"type":"quantitative","axis":null}}},
{"data":{"name":"fit"},"transform":[{"filter":"datum.p=='h'"}],"mark":{"type":"line","color":"#ff1a1a","strokeWidth":1.3,"interpolate":"monotone"},"encoding":{"x":{"field":"x","type":"quantitative","scale":{"domain":[-1.1,1.1],"nice":false,"zero":false},"axis":{"orient":"bottom","values":[-1,-0.9,-0.8,-0.7,-0.6,-0.5,-0.4,-0.3,-0.2,-0.1,0,0.1,0.2,0.3,0.4,0.5,0.6,0.7,0.8,0.9,1],"labelExpr":"abs(datum.value*2-round(datum.value*2))<0.001 ? format(datum.value,'.1f') : ''","tickSize":{"condition":{"test":"abs(datum.value*2-round(datum.value*2))<0.001","value":-5},"value":-2.5},"labelPadding":8,"title":"cos θₙᵧ","titlePadding":4}},"y":{"field":"y","type":"quantitative","scale":{"domain":[-0.1,0.1],"nice":false,"zero":false},"axis":{"orient":"left","values":[-0.1,-0.09,-0.08,-0.07,-0.06,-0.05,-0.04,-0.03,-0.02,-0.01,0,0.01,0.02,0.03,0.04,0.05,0.06,0.07,0.08,0.09,0.1],"labelExpr":"abs(datum.value*20-round(datum.value*20))<0.001 ? format(datum.value,'.2f') : ''","tickSize":{"condition":{"test":"abs(datum.value*20-round(datum.value*20))<0.001","value":-5},"value":-2.5},"labelPadding":7,"title":"CEₙEᵧθₙᵧ","titleFontStyle":"italic","titlePadding":7}}}},
{"data":{"name":"pts"},"transform":[{"filter":"datum.p=='h'"}],"mark":{"type":"errorbar","ticks":{"size":7},"color":"#1f1fff","thickness":1.3},"encoding":{"x":{"field":"x","type":"quantitative","axis":null},"y":{"field":"y","type":"quantitative","axis":null},"yError":{"field":"e"}}},
{"data":{"name":"pts"},"transform":[{"filter":"datum.p=='h'"}],"mark":{"type":"point","shape":"circle","filled":true,"fill":"white","stroke":"#0000ff","strokeWidth":1.3,"size":28,"opacity":1},"encoding":{"x":{"field":"x","type":"quantitative","axis":{"orient":"top","values":[-1,-0.9,-0.8,-0.7,-0.6,-0.5,-0.4,-0.3,-0.2,-0.1,0,0.1,0.2,0.3,0.4,0.5,0.6,0.7,0.8,0.9,1],"labels":false,"title":null,"tickSize":{"condition":{"test":"abs(datum.value*2-round(datum.value*2))<0.001","value":-5},"value":-2.5}}},"y":{"field":"y","type":"quantitative","axis":{"orient":"right","values":[-0.1,-0.09,-0.08,-0.07,-0.06,-0.05,-0.04,-0.03,-0.02,-0.01,0,0.01,0.02,0.03,0.04,0.05,0.06,0.07,0.08,0.09,0.1],"labels":false,"title":null,"tickSize":{"condition":{"test":"abs(datum.value*20-round(datum.value*20))<0.001","value":-5},"value":-2.5}}}}},
{"data":{"values":[{}]},"mark":{"type":"text","text":"(h)","fontSize":19,"color":"#222222"},"encoding":{"x":{"datum":-0.81,"type":"quantitative","axis":null},"y":{"datum":0.0725,"type":"quantitative","axis":null}}},
{"data":{"values":[{}]},"mark":{"type":"text","text":["Eₙ\u00a0=\u00a0\u00a05.\u00a0\u00a0\u00a0\u00a0\u00a0\u00a0MeV","Eᵧ\u00a0=2.08\u00a0\u00a0\u00a0\u00a0MeV"],"align":"left","baseline":"alphabetic","lineHeight":21.7,"fontSize":17,"color":"#555555"},"encoding":{"x":{"datum":-1.08,"type":"quantitative","axis":null},"y":{"datum":-0.0749,"type":"quantitative","axis":null}}},
{"data":{"values":[{}]},"mark":{"type":"text","text":["A₀\u00a0=\u00a0\u00a0−0.023","A₂\u00a0=\u00a0\u00a0\u00a0\u00a00.011"],"align":"left","baseline":"alphabetic","lineHeight":21.7,"fontSize":17,"color":"#555555"},"encoding":{"x":{"datum":0.435,"type":"quantitative","axis":null},"y":{"datum":-0.0749,"type":"quantitative","axis":null}}}
]}
]
}
